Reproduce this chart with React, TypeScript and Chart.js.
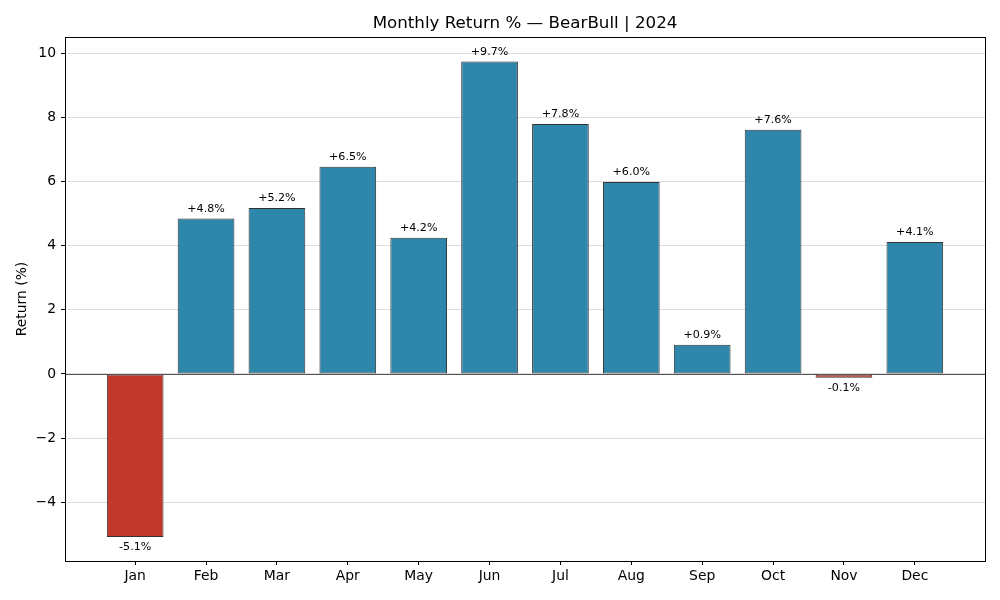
import React, { useEffect, useRef } from "react";
import { Chart, registerables } from "chart.js";

Chart.register(...registerables);

const months = ["Jan", "Feb", "Mar", "Apr", "May", "Jun", "Jul", "Aug", "Sep", "Oct", "Nov", "Dec"];
const returns = [-5.08, 4.84, 5.17, 6.46, 4.24, 9.74, 7.79, 5.98, 0.91, 7.61, -0.12, 4.11];
const yTicks = [-4, -2, 0, 2, 4, 6, 8, 10];
const chartTitle = "Monthly Return % \u2014 BearBull | 2024";
const yTitle = "Return (%)";

const POS = "#2E86AB";
const NEG = "#C0392B";
const FONT = "'DejaVu Sans', sans-serif";

const overlay = {
  id: "overlay",
  afterDatasetsDraw(chart: any) {
    const { ctx, chartArea, scales } = chart;
    const y0 = Math.round(scales.y.getPixelForValue(0)) + 0.5;
    ctx.save();
    ctx.strokeStyle = "#555555";
    ctx.lineWidth = 1;
    ctx.beginPath();
    ctx.moveTo(chartArea.left, y0);
    ctx.lineTo(chartArea.right, y0);
    ctx.stroke();

    ctx.fillStyle = "#000";
    ctx.font = `11.1px ${FONT}`;
    ctx.textAlign = "center";
    ctx.textBaseline = "alphabetic";
    const meta = chart.getDatasetMeta(0);
    meta.data.forEach((bar: any, i: number) => {
      const v = returns[i];
      const txt = (v > 0 ? "+" : "") + v.toFixed(1) + "%";
      if (v >= 0) ctx.fillText(txt, bar.x, bar.y - 6.8);
      else ctx.fillText(txt, bar.x, bar.y + 13.4);
    });
    ctx.restore();
  },
  afterDraw(chart: any) {
    const { ctx, chartArea } = chart;
    ctx.save();
    ctx.strokeStyle = "#000";
    ctx.lineWidth = 1;
    const l = Math.round(chartArea.left) + 0.5;
    const t = Math.round(chartArea.top) + 0.5;
    const r = Math.round(chartArea.right) + 0.5;
    const b = Math.round(chartArea.bottom) + 0.5;
    ctx.strokeRect(l, t, r - l, b - t);

    ctx.fillStyle = "#000";
    ctx.textAlign = "center";
    ctx.textBaseline = "alphabetic";
    ctx.font = `16.7px ${FONT}`;
    ctx.fillText(chartTitle, (chartArea.left + chartArea.right) / 2, 28);

    ctx.font = `13.9px ${FONT}`;
    ctx.translate(26, (chartArea.top + chartArea.bottom) / 2);
    ctx.rotate(-Math.PI / 2);
    ctx.fillText(yTitle, 0, 0);
    ctx.restore();
  },
};

export default function App() {
  const ref = useRef<HTMLCanvasElement>(null);
  useEffect(() => {
    if (!ref.current) return;
    const chart = new Chart(ref.current, {
      type: "bar",
      data: {
        datasets: [
          {
            data: returns.map((v, i) => ({ x: i, y: v })),
            backgroundColor: returns.map((v) => (v >= 0 ? POS : NEG)),
            borderColor: "#333333",
            borderWidth: 1,
            borderSkipped: false,
            categoryPercentage: 0.8,
            barPercentage: 1,
          } as any,
        ],
      },
      options: {
        responsive: false,
        animation: false,
        devicePixelRatio: 1,
        layout: { padding: { top: 37, right: 15, left: 0, bottom: 0 } },
        plugins: {
          legend: { display: false },
          title: { display: false },
          tooltip: { enabled: false },
        },
        scales: {
          x: {
            type: "linear",
            min: -0.99,
            max: 11.99,
            offset: false,
            grid: { offset: false, drawOnChartArea: false, tickLength: 4, tickColor: "#000", tickWidth: 1 },
            border: { display: false },
            ticks: {
              font: { family: FONT, size: 13.9 },
              color: "#000",
              padding: 3,
              autoSkip: false,
              maxRotation: 0,
              callback: (v: any) => months[v] ?? "",
            },
            afterBuildTicks: (s: any) => {
              s.ticks = months.map((_, i) => ({ value: i }));
            },
            afterFit: (s: any) => {
              s.height = 39;
            },
          } as any,
          y: {
            type: "linear",
            min: -5.83,
            max: 10.5,
            grid: { color: "#dddddd", lineWidth: 1, tickLength: 4, tickColor: "#000" },
            border: { display: false },
            ticks: {
              font: { family: FONT, size: 13.9 },
              color: "#000",
              padding: 5,
              callback: (v: any) => (v < 0 ? "\u2212" + Math.abs(v) : String(v)),
            },
            afterBuildTicks: (s: any) => {
              s.ticks = yTicks.map((v) => ({ value: v }));
            },
            afterFit: (s: any) => {
              s.width = 65;
            },
          } as any,
        },
      },
      plugins: [overlay],
    });
    return () => chart.destroy();
  }, []);

  return (
    <div style={{ position: "absolute", left: 0, top: 0, width: 1000, height: 600, background: "#fff" }}>
      <canvas ref={ref} width={1000} height={600} />
    </div>
  );
}
